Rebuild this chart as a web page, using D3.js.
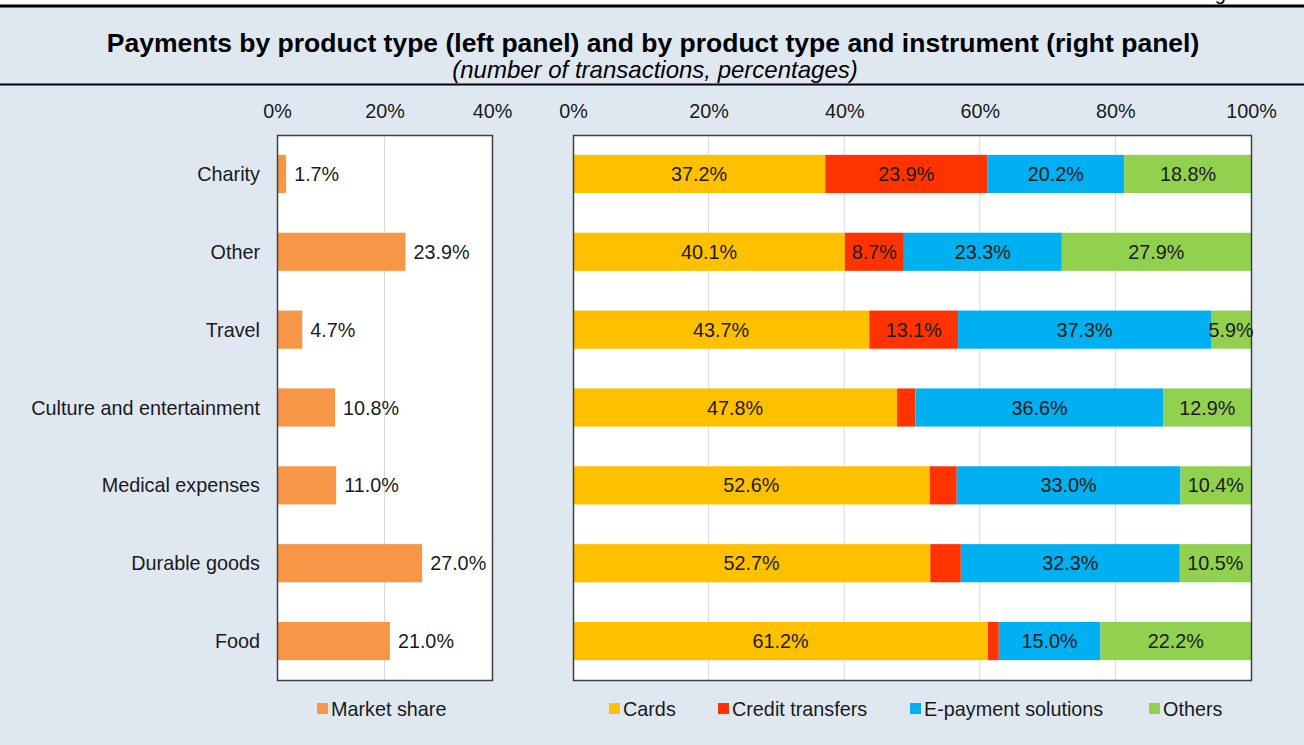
<!DOCTYPE html>
<html>
<head>
<meta charset="utf-8">
<script src="https://cdn.jsdelivr.net/npm/d3@7"></script>
<style>
  html, body { margin: 0; padding: 0; background: #dfe8f1; }
  svg { display: block; font-family: "Liberation Sans", Arial, sans-serif; }
</style>
</head>
<body>
<svg id="chart" width="1304" height="745"></svg>
<script>
// Product categories, top to bottom
const categories = ["Charity", "Other", "Travel", "Culture and entertainment", "Medical expenses", "Durable goods", "Food"];

// Left panel: market share by product type (%)
const marketShare = [1.7, 23.9, 4.7, 10.8, 11.0, 27.0, 21.0];

// Right panel: instrument shares within each product type (%)
const instruments = ["Cards", "Credit transfers", "E-payment solutions", "Others"];
const cards           = [37.2, 40.1, 43.7, 47.8, 52.6, 52.7, 61.2];
const creditTransfers = [23.9,  8.7, 13.1,  2.7,  4.0,  4.5,  1.6];
const ePayment        = [20.2, 23.3, 37.3, 36.6, 33.0, 32.3, 15.0];
const others          = [18.8, 27.9,  5.9, 12.9, 10.4, 10.5, 22.2];

const leftTicks = [0, 20, 40];
const rightTicks = [0, 20, 40, 60, 80, 100];

const colors = {
  "Market share": "#f79646",
  "Cards": "#ffc000",
  "Credit transfers": "#ff3300",
  "E-payment solutions": "#00b0f0",
  "Others": "#92d050"
};

const FS = 19.8;          // body text size
const TEXT = "#1a1a1a";

const svg = d3.select("#chart");
const fmt = v => v.toFixed(1) + "%";

// Header rules and titles
svg.append("rect").attr("x", 0).attr("y", 0).attr("width", 1304).attr("height", 5).attr("fill", "#ffffff");
svg.append("text").attr("x", 1198).attr("y", 0).attr("font-size", 20).attr("fill", "#000").text("Figure 5");
svg.append("line").attr("x1", 0).attr("x2", 1304).attr("y1", 6).attr("y2", 6)
  .attr("stroke", "#000").attr("stroke-width", 3);
svg.append("line").attr("x1", 0).attr("x2", 1304).attr("y1", 84.5).attr("y2", 84.5)
  .attr("stroke", "#000").attr("stroke-width", 2);

svg.append("text").attr("x", 653).attr("y", 52).attr("text-anchor", "middle")
  .attr("font-size", 26.5).attr("font-weight", "bold").attr("fill", "#000")
  .text("Payments by product type (left panel) and by product type and instrument (right panel)");
svg.append("text").attr("x", 655).attr("y", 78).attr("text-anchor", "middle")
  .attr("font-size", 24).attr("font-style", "italic").attr("fill", "#000")
  .text("(number of transactions, percentages)");

const plotTop = 135, plotBottom = 680;
const y = d3.scaleBand().domain(categories).range([plotTop, plotBottom]).paddingInner(0.51).paddingOuter(0.255);

// ---------- Left panel ----------
const xL = d3.scaleLinear().domain([0, 40]).range([277, 492]);
const left = svg.append("g");
left.append("rect").attr("x", xL(0)).attr("y", plotTop).attr("width", xL(40) - xL(0)).attr("height", plotBottom - plotTop)
  .attr("fill", "#fff");
left.selectAll("line.grid").data(leftTicks.slice(1, -1)).join("line")
  .attr("x1", d => xL(d)).attr("x2", d => xL(d)).attr("y1", plotTop).attr("y2", plotBottom)
  .attr("stroke", "#d9d9d9").attr("stroke-width", 1);
left.selectAll("rect.bar").data(categories).join("rect")
  .attr("x", xL(0)).attr("y", d => y(d))
  .attr("width", (d, i) => xL(marketShare[i]) - xL(0)).attr("height", y.bandwidth())
  .attr("fill", colors["Market share"]);
left.selectAll("text.val").data(categories).join("text")
  .attr("x", (d, i) => xL(marketShare[i]) + 8).attr("y", d => y(d) + y.bandwidth() / 2)
  .attr("dy", "0.36em").attr("font-size", FS).attr("fill", TEXT)
  .text((d, i) => fmt(marketShare[i]));
left.append("rect").attr("x", xL(0) + 0.5).attr("y", plotTop + 0.5).attr("width", xL(40) - xL(0)).attr("height", plotBottom - plotTop)
  .attr("fill", "none").attr("stroke", "#404040").attr("stroke-width", 1.5);

const axL = left.append("g").attr("transform", `translate(0,${plotTop})`)
  .call(d3.axisTop(xL).tickValues(leftTicks).tickFormat(d => d + "%").tickSize(0).tickPadding(17));
axL.select(".domain").remove();
axL.selectAll("text").attr("font-size", FS).attr("fill", TEXT).attr("font-family", "Liberation Sans, Arial, sans-serif");

// Category labels
svg.selectAll("text.cat").data(categories).join("text")
  .attr("x", 260).attr("y", d => y(d) + y.bandwidth() / 2).attr("dy", "0.36em")
  .attr("text-anchor", "end").attr("font-size", FS).attr("fill", TEXT)
  .text(d => d);

// ---------- Right panel ----------
const xR = d3.scaleLinear().domain([0, 100]).range([573, 1251]);
const right = svg.append("g");
right.append("rect").attr("x", xR(0)).attr("y", plotTop).attr("width", xR(100) - xR(0)).attr("height", plotBottom - plotTop)
  .attr("fill", "#fff");
right.selectAll("line.grid").data(rightTicks.slice(1, -1)).join("line")
  .attr("x1", d => xR(d)).attr("x2", d => xR(d)).attr("y1", plotTop).attr("y2", plotBottom)
  .attr("stroke", "#d9d9d9").attr("stroke-width", 1);

const rows = categories.map((c, i) => ({
  category: c,
  "Cards": cards[i],
  "Credit transfers": creditTransfers[i],
  "E-payment solutions": ePayment[i],
  "Others": others[i]
}));
const stacked = d3.stack().keys(instruments)(rows);

const layers = right.selectAll("g.layer").data(stacked).join("g").attr("fill", d => colors[d.key]);
layers.selectAll("rect").data(d => d).join("rect")
  .attr("x", d => xR(d[0])).attr("y", d => y(d.data.category))
  .attr("width", d => xR(d[1]) - xR(d[0])).attr("height", y.bandwidth());

// Only segments wide enough carry a value label
const labelData = stacked.flatMap(s => s.map(d => ({ v: d.data[s.key], x0: d[0], x1: d[1], cat: d.data.category })))
  .filter(d => d.v >= 5);

right.append("rect").attr("x", xR(0) + 0.5).attr("y", plotTop + 0.5).attr("width", xR(100) - xR(0)).attr("height", plotBottom - plotTop)
  .attr("fill", "none").attr("stroke", "#404040").attr("stroke-width", 1.5);

right.selectAll("text.seg").data(labelData).join("text")
  .attr("x", d => (xR(d.x0) + xR(d.x1)) / 2).attr("y", d => y(d.cat) + y.bandwidth() / 2)
  .attr("dy", "0.36em").attr("text-anchor", "middle").attr("font-size", FS).attr("fill", TEXT)
  .text(d => fmt(d.v));

const axR = right.append("g").attr("transform", `translate(0,${plotTop})`)
  .call(d3.axisTop(xR).tickValues(rightTicks).tickFormat(d => d + "%").tickSize(0).tickPadding(17));
axR.select(".domain").remove();
axR.selectAll("text").attr("font-size", FS).attr("fill", TEXT).attr("font-family", "Liberation Sans, Arial, sans-serif");

// ---------- Legends ----------
const legendItems = [
  { key: "Market share", x: 317 },
  { key: "Cards", x: 609 },
  { key: "Credit transfers", x: 718 },
  { key: "E-payment solutions", x: 910 },
  { key: "Others", x: 1149 }
];
const lg = svg.selectAll("g.legend").data(legendItems).join("g")
  .attr("transform", d => `translate(${d.x},709)`);
lg.append("rect").attr("x", 0).attr("y", -6).attr("width", 11).attr("height", 11).attr("fill", d => colors[d.key]);
lg.append("text").attr("x", 14).attr("y", 0).attr("dy", "0.36em").attr("font-size", FS).attr("fill", TEXT)
  .text(d => d.key);
</script>
</body>
</html>
